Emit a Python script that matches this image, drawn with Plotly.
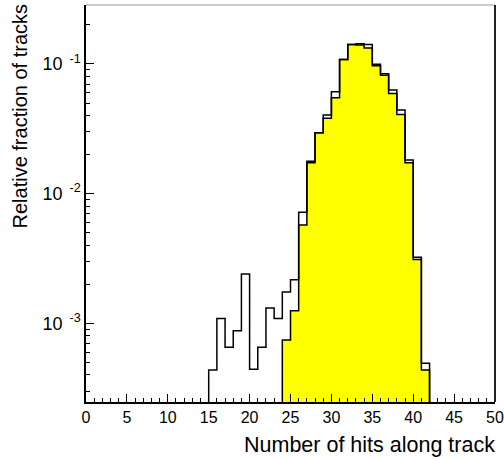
import numpy as np
import plotly.graph_objects as go

# Open (all tracks) histogram: bins 15..41, width 1
open_lo = 15
open_vals = [4.37e-4, 1.09e-3, 6.53e-4, 8.77e-4, 2.40e-3, 4.42e-4, 6.53e-4, 1.31e-3,
             1.09e-3, 1.74e-3, 2.17e-3, 7.18e-3, 1.78e-2, 2.95e-2, 4.04e-2, 6.10e-2,
             0.1084, 0.141, 0.143, 0.141, 0.0993, 0.0840, 0.0630, 0.0442, 0.01815,
             3.23e-3, 4.92e-4]

# Yellow (selected tracks) histogram: bins 24..41
yel_lo = 24
yel_vals = [7.43e-4, 1.25e-3, 5.73e-3, 1.73e-2, 2.95e-2, 3.81e-2, 5.48e-2, 0.1084,
            0.141, 0.140, 0.133, 0.0968, 0.0820, 0.0593, 0.0408, 0.0173, 3.11e-3, 4.37e-4]

x_ticks = [0, 5, 10, 15, 20, 25, 30, 35, 40, 45, 50]
y_ticks = [1e-3, 1e-2, 1e-1]
y_tick_text = ["10<sup>&nbsp;&nbsp;-3</sup>", "10<sup>&nbsp;&nbsp;-2</sup>", "10<sup>&nbsp;&nbsp;-1</sup>"]

FLOOR = 1e-6


def step_xy(lo, vals):
    edges = np.arange(lo, lo + len(vals) + 1)
    xs = [edges[0]] + list(edges) + [edges[-1]]
    ys = [FLOOR] + list(vals) + [vals[-1], FLOOR]
    return xs, ys


FONT = "Liberation Sans, Arial, Helvetica, sans-serif"

fig = go.Figure()
xs, ys = step_xy(yel_lo, yel_vals)
fig.add_trace(go.Scatter(x=xs, y=ys, mode="lines", line=dict(shape="hv", color="black", width=1.5),
                         fill="toself", fillcolor="#ffff00", hoverinfo="skip"))
xs, ys = step_xy(open_lo, open_vals)
fig.add_trace(go.Scatter(x=xs, y=ys, mode="lines", line=dict(shape="hv", color="black", width=1.5),
                         hoverinfo="skip"))

fig.update_layout(
    width=504, height=459,
    margin=dict(l=86, r=9, t=5, b=57),
    paper_bgcolor="white", plot_bgcolor="white",
    showlegend=False,
    font=dict(family=FONT, color="black"),
)
fig.update_xaxes(
    range=[0, 50], showgrid=False, zeroline=False, automargin=False,
    showline=True, linecolor="black", linewidth=1.5,
    tickmode="array", tickvals=x_ticks, ticks="inside", ticklen=8, tickcolor="black",
    tickfont=dict(size=16, family=FONT),
    minor=dict(dtick=1, ticks="inside", ticklen=4, tickcolor="black", showgrid=False),
)
fig.update_yaxes(
    type="log", range=[np.log10(2.47e-4), np.log10(0.285)], showgrid=False, zeroline=False,
    automargin=False,
    showline=True, linecolor="black", linewidth=1.5,
    tickmode="array", tickvals=y_ticks, ticktext=y_tick_text,
    ticks="inside", ticklen=8, tickcolor="black",
    tickfont=dict(size=18, family=FONT),
    minor=dict(dtick="D1", ticks="inside", ticklen=4, tickcolor="black", showgrid=False),
)
# frame top and right
fig.add_shape(type="line", xref="paper", yref="paper", x0=0, x1=1, y0=1, y1=1,
              line=dict(color="#999999", width=1))
fig.add_shape(type="line", xref="paper", yref="paper", x0=1, x1=1, y0=0, y1=1,
              line=dict(color="#222222", width=2))

fig.add_annotation(text="Number of hits along track", xref="paper", yref="paper",
                   x=1, y=0, xanchor="right", yanchor="middle", yshift=-43, xshift=2,
                   showarrow=False, font=dict(size=21.5, family=FONT))
fig.add_annotation(text="Relative fraction of tracks", xref="paper", yref="paper",
                   x=0, y=1, xanchor="center", yanchor="top", xshift=-67, yshift=3,
                   textangle=-90, showarrow=False, font=dict(size=20, family=FONT))

fig.write_html("out.html", config={"displayModeBar": False},
               post_script="document.body.style.margin='0';document.body.style.padding='0';")
